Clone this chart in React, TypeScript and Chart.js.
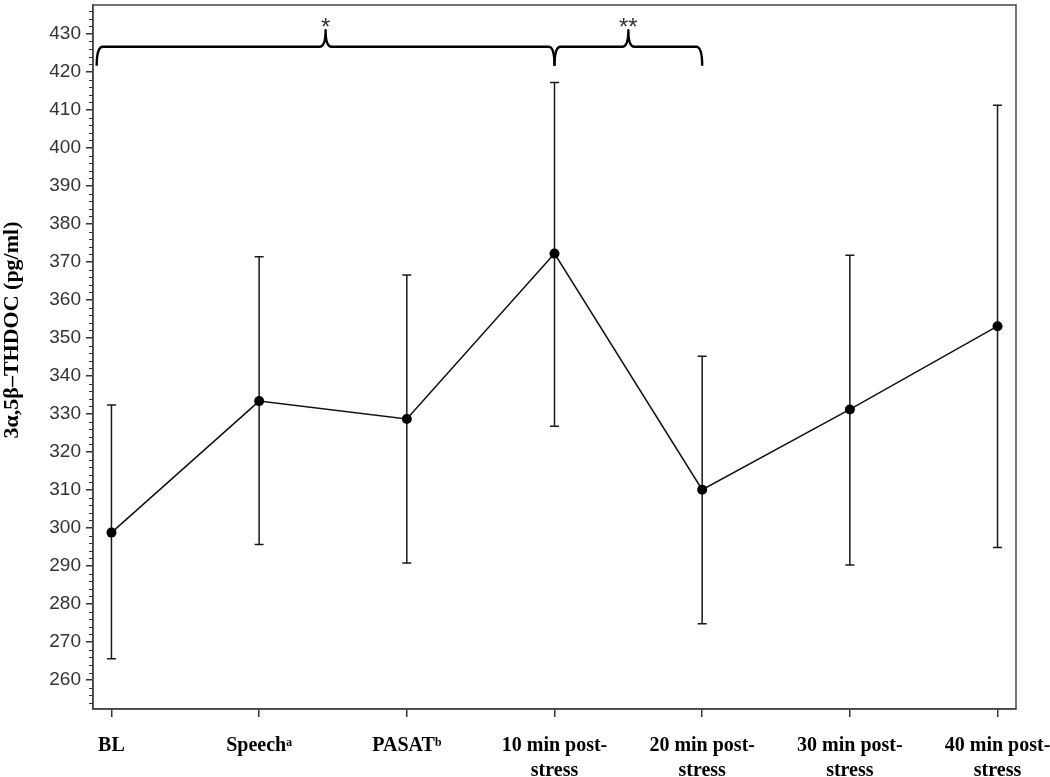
import React, { useEffect, useRef } from 'react';
import { Chart, registerables } from 'chart.js';

Chart.register(...registerables);

// ---- data ----
const categories: string[][] = [
  ['BL'],
  ['Speechᵃ'],
  ['PASATᵇ'],
  ['10 min post-', 'stress'],
  ['20 min post-', 'stress'],
  ['30 min post-', 'stress'],
  ['40 min post-', 'stress'],
];
const means = [298.8, 333.4, 328.7, 372.2, 310.1, 331.2, 353.1];
const upper = [332.4, 371.4, 366.6, 417.2, 345.2, 371.8, 411.2];
const lower = [265.6, 295.7, 290.8, 326.8, 274.8, 290.3, 294.9];
const yTicks = [260, 270, 280, 290, 300, 310, 320, 330, 340, 350, 360, 370, 380, 390, 400, 410, 420, 430];
const yTitle = '3α,5β–THDOC (pg/ml)';

// significance braces (x in category index units, y in data units)
const braceFrom = [-0.1, 3];
const braceTo = [3, 4];
const braceLabels = ['*', '**'];
const braceLineValue = 426.6;
const braceEndValue = 421.6;
const bracePeakValue = 431.0;
const starBaselineValue = 429.6;

const Y_MIN = 252.4;
const Y_MAX = 437.6;

const decor = {
  id: 'decor',
  beforeDatasetsDraw(chart: any) {
    const { ctx, scales } = chart;
    const x = scales.x;
    const y = scales.y;
    ctx.save();
    ctx.strokeStyle = '#1a1a1a';
    ctx.lineWidth = 1.5;
    means.forEach((_, i) => {
      const px = x.getPixelForValue(i);
      const yl = y.getPixelForValue(lower[i]);
      const yh = y.getPixelForValue(upper[i]);
      ctx.beginPath();
      ctx.moveTo(px, yl);
      ctx.lineTo(px, yh);
      ctx.moveTo(px - 4.5, yl);
      ctx.lineTo(px + 4.5, yl);
      ctx.moveTo(px - 4.5, yh);
      ctx.lineTo(px + 4.5, yh);
      ctx.stroke();
    });
    ctx.restore();
  },
  afterDraw(chart: any) {
    const { ctx, chartArea: a, scales } = chart;
    const x = scales.x;
    const y = scales.y;
    ctx.save();
    // plot box
    ctx.strokeStyle = '#444';
    ctx.lineWidth = 1.5;
    ctx.strokeRect(a.left, a.top, a.right - a.left, a.bottom - a.top);

    // minor ticks on y axis
    ctx.strokeStyle = '#333';
    ctx.lineWidth = 1.2;
    ctx.beginPath();
    for (let v = 254; v <= 436; v += 2) {
      if (v % 10 === 0) continue;
      const py = Math.round(y.getPixelForValue(v)) + 0.5;
      ctx.moveTo(a.left - 4, py);
      ctx.lineTo(a.left, py);
    }
    ctx.stroke();

    // braces
    const yl = y.getPixelForValue(braceLineValue);
    const ye = y.getPixelForValue(braceEndValue);
    const yp = y.getPixelForValue(bracePeakValue);
    const r = 6;
    ctx.strokeStyle = '#000';
    ctx.lineWidth = 2.4;
    ctx.lineJoin = 'round';
    braceFrom.forEach((f, i) => {
      const x0 = x.getPixelForValue(f);
      const x1 = x.getPixelForValue(braceTo[i]);
      const xm = (x0 + x1) / 2;
      ctx.beginPath();
      ctx.moveTo(x0, ye);
      ctx.quadraticCurveTo(x0, yl, x0 + r, yl);
      ctx.lineTo(xm - r, yl);
      ctx.quadraticCurveTo(xm, yl, xm, yp);
      ctx.quadraticCurveTo(xm, yl, xm + r, yl);
      ctx.lineTo(x1 - r, yl);
      ctx.quadraticCurveTo(x1, yl, x1, ye);
      ctx.stroke();
      ctx.fillStyle = '#333';
      ctx.font = '24px "Liberation Sans", Arial, sans-serif';
      ctx.textAlign = 'center';
      ctx.textBaseline = 'alphabetic';
      ctx.fillText(braceLabels[i], xm, y.getPixelForValue(starBaselineValue));
    });

    // y axis title
    ctx.translate(12, 330);
    ctx.rotate(-Math.PI / 2);
    ctx.fillStyle = '#000';
    ctx.font = 'bold 22px "Liberation Serif", "Times New Roman", serif';
    ctx.textAlign = 'center';
    ctx.textBaseline = 'middle';
    ctx.fillText(yTitle, 0, 0);
    ctx.restore();
  },
};

export default function App() {
  const ref = useRef<HTMLCanvasElement | null>(null);
  useEffect(() => {
    if (!ref.current) return;
    const chart = new Chart(ref.current, {
      type: 'line',
      data: {
        datasets: [
          {
            data: means.map((v, i) => ({ x: i, y: v })),
            borderColor: '#111',
            borderWidth: 1.5,
            pointRadius: 5,
            pointBackgroundColor: '#000',
            pointBorderColor: '#000',
            pointBorderWidth: 0,
            tension: 0,
            fill: false,
          },
        ],
      },
      options: {
        animation: false,
        responsive: false,
        maintainAspectRatio: false,
        layout: { padding: { left: 0, top: 1, right: 34, bottom: 0 } },
        plugins: { legend: { display: false }, tooltip: { enabled: false } },
        scales: {
          x: {
            type: 'linear',
            min: -0.125,
            max: 6.125,
            afterBuildTicks: (s: any) => {
              s.ticks = categories.map((_, i) => ({ value: i }));
            },
            afterFit: (s: any) => {
              s.height = 68;
              s.paddingLeft = 0;
              s.paddingRight = 0;
            },
            grid: { drawOnChartArea: false, drawTicks: true, tickLength: 8, color: '#333', lineWidth: 1.5 },
            border: { display: true, color: '#444', width: 1.5 },
            ticks: {
              autoSkip: false,
              maxRotation: 0,
              minRotation: 0,
              padding: 16,
              color: '#000',
              font: { family: '"Liberation Serif", "Times New Roman", serif', size: 20, weight: 'bold', lineHeight: 1.25 },
              callback: (v: any) => categories[Math.round(v)] as any,
            },
          },
          y: {
            type: 'linear',
            min: Y_MIN,
            max: Y_MAX,
            afterBuildTicks: (s: any) => {
              s.ticks = yTicks.map((v) => ({ value: v }));
            },
            afterFit: (s: any) => {
              s.width = 93;
              s.paddingTop = 0;
              s.paddingBottom = 0;
            },
            grid: { drawOnChartArea: false, drawTicks: true, tickLength: 7, color: '#333', lineWidth: 1.5 },
            border: { display: true, color: '#444', width: 1.5 },
            ticks: {
              padding: 5,
              color: '#333',
              font: { family: '"Liberation Sans", Arial, sans-serif', size: 19 },
              callback: (v: any) => String(v),
            },
          },
        },
      },
      plugins: [decor],
    } as any);
    return () => chart.destroy();
  }, []);
  return (
    <div style={{ position: 'fixed', left: 0, top: 0, width: 1050, height: 777, background: '#fff' }}>
      <canvas ref={ref} width={1050} height={777} style={{ display: 'block' }} />
    </div>
  );
}
